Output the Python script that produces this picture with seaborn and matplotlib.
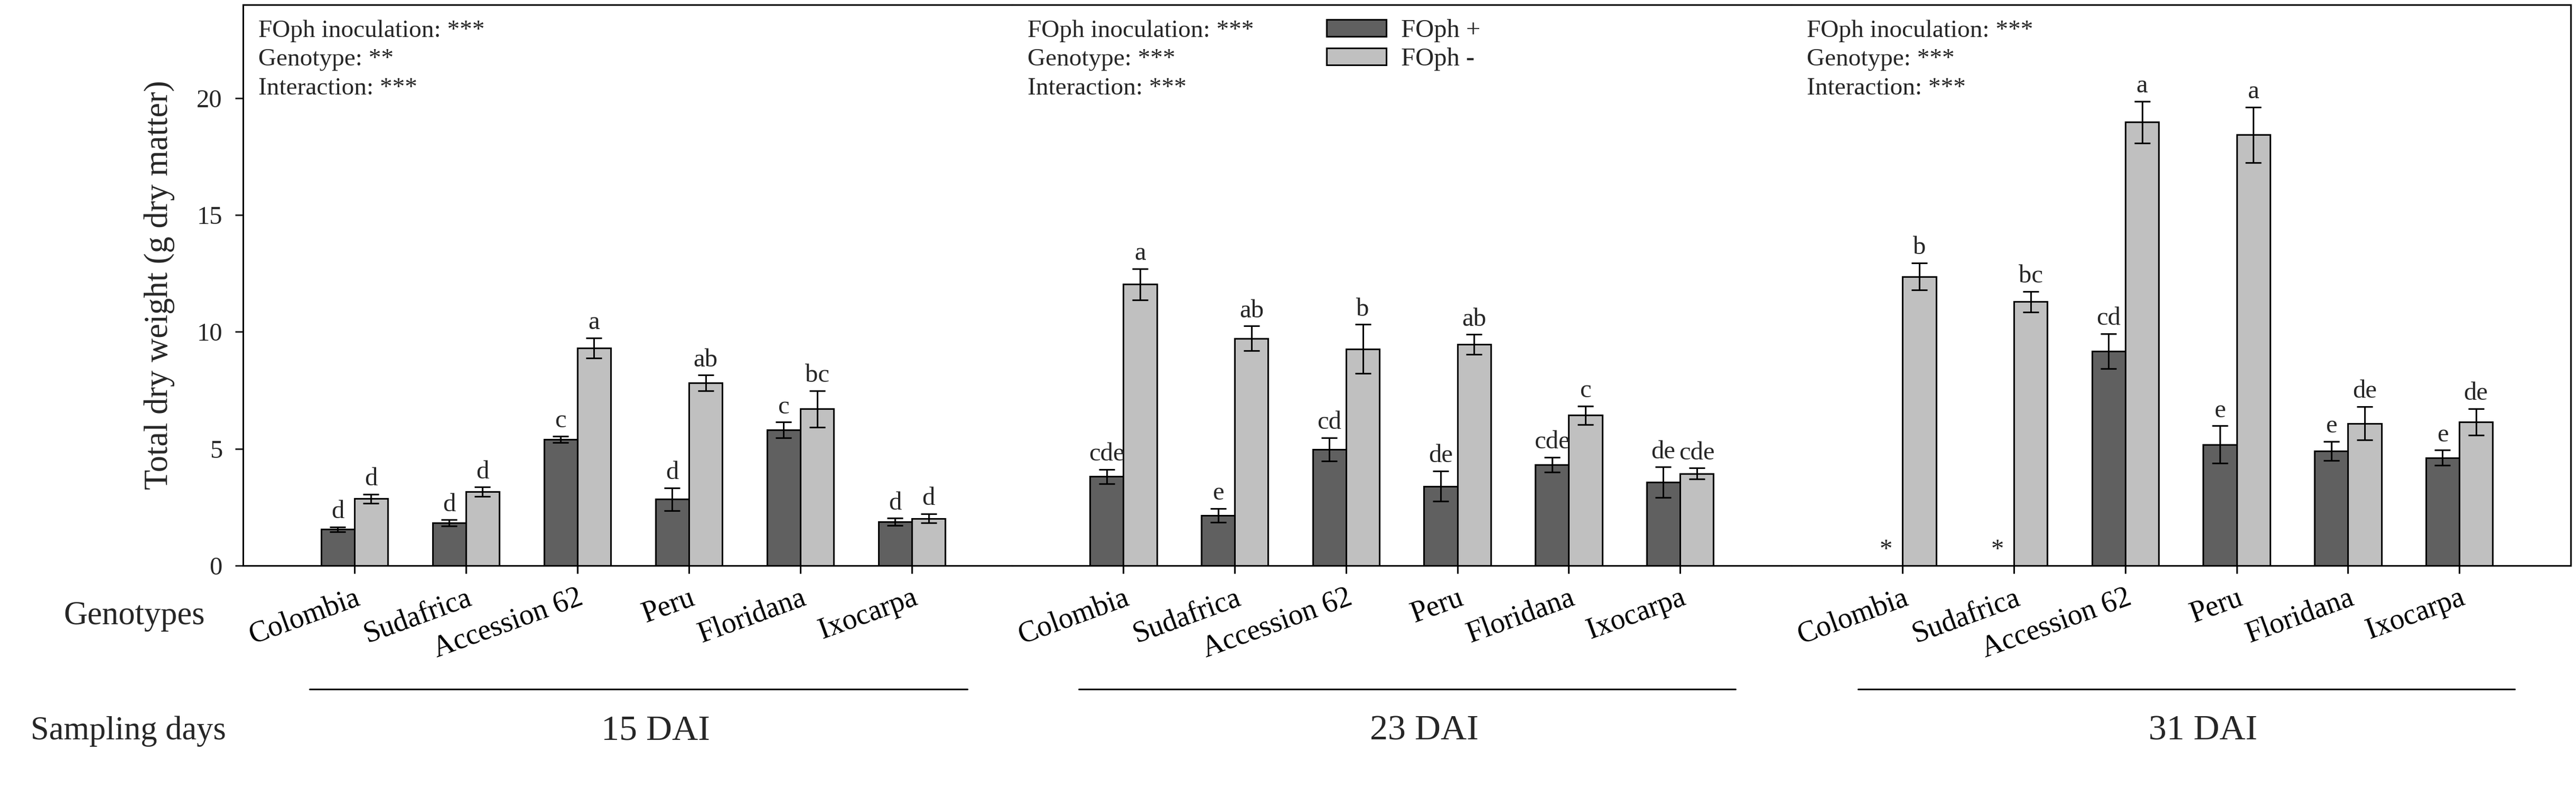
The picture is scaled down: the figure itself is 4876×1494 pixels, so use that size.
import matplotlib
matplotlib.use("Agg")
import matplotlib.pyplot as plt
import numpy as np
import pandas as pd
import seaborn as sns

# genotypes and sampling days
genotypes = ["Colombia", "Sudafrica", "Accession 62", "Peru", "Floridana", "Ixocarpa"]
days = ["15 DAI", "23 DAI", "31 DAI"]
treatments = ["FOph +", "FOph -"]

# mean total dry weight (g) per genotype, None = plant dead (marked with *)
pos_15 = [1.55, 1.83, 5.40, 2.84, 5.81, 1.87]
neg_15 = [2.86, 3.16, 9.31, 7.81, 6.71, 2.02]
pos_23 = [3.81, 2.15, 4.97, 3.40, 4.32, 3.57]
neg_23 = [12.04, 9.72, 9.27, 9.46, 6.43, 3.94]
pos_31 = [None, None, 9.18, 5.18, 4.90, 4.62]
neg_31 = [12.37, 11.29, 18.97, 18.43, 6.09, 6.15]

# standard errors
pos_15_se = [0.10, 0.13, 0.14, 0.48, 0.33, 0.16]
neg_15_se = [0.19, 0.20, 0.43, 0.34, 0.78, 0.20]
pos_23_se = [0.31, 0.30, 0.50, 0.65, 0.31, 0.65]
neg_23_se = [0.67, 0.53, 1.05, 0.43, 0.40, 0.23]
pos_31_se = [None, None, 0.75, 0.80, 0.41, 0.32]
neg_31_se = [0.58, 0.44, 0.89, 1.19, 0.72, 0.57]

# tukey letters
pos_15_let = ["d", "d", "c", "d", "c", "d"]
neg_15_let = ["d", "d", "a", "ab", "bc", "d"]
pos_23_let = ["cde", "e", "cd", "de", "cde", "de"]
neg_23_let = ["a", "ab", "b", "ab", "c", "cde"]
pos_31_let = ["*", "*", "cd", "e", "e", "e"]
neg_31_let = ["b", "bc", "a", "a", "de", "de"]

# anova summary per sampling day
anova_lines = [
    ["FOph inoculation: ***", "Genotype: **", "Interaction: ***"],
    ["FOph inoculation: ***", "Genotype: ***", "Interaction: ***"],
    ["FOph inoculation: ***", "Genotype: ***", "Interaction: ***"],
]

means = {("15 DAI", "FOph +"): pos_15, ("15 DAI", "FOph -"): neg_15,
         ("23 DAI", "FOph +"): pos_23, ("23 DAI", "FOph -"): neg_23,
         ("31 DAI", "FOph +"): pos_31, ("31 DAI", "FOph -"): neg_31}
errs = {("15 DAI", "FOph +"): pos_15_se, ("15 DAI", "FOph -"): neg_15_se,
        ("23 DAI", "FOph +"): pos_23_se, ("23 DAI", "FOph -"): neg_23_se,
        ("31 DAI", "FOph +"): pos_31_se, ("31 DAI", "FOph -"): neg_31_se}
letters = {("15 DAI", "FOph +"): pos_15_let, ("15 DAI", "FOph -"): neg_15_let,
           ("23 DAI", "FOph +"): pos_23_let, ("23 DAI", "FOph -"): neg_23_let,
           ("31 DAI", "FOph +"): pos_31_let, ("31 DAI", "FOph -"): neg_31_let}

rows = []
for d in days:
    for t in treatments:
        for i, g in enumerate(genotypes):
            rows.append({"day": d, "treatment": t, "genotype": g,
                         "weight": means[(d, t)][i], "se": errs[(d, t)][i],
                         "letter": letters[(d, t)][i]})
df = pd.DataFrame(rows)
df["weight"] = df["weight"].astype(float)
df["se"] = df["se"].astype(float)

sns.set_style("ticks")
plt.rcParams["font.family"] = ["Liberation Serif", "DejaVu Serif"]

LW = 2.2
colors = ["#606060", "#c0c0c0"]

fig = plt.figure(figsize=(48.76, 14.94), dpi=100)
bottom, height = 0.2831, 0.711
panels = [(0.0943, 0.2986, 5.9), (0.3929, 0.3025, 6.0), (0.6954, 0.3025, 6.0)]

for k, d in enumerate(days):
    left, width, xmax = panels[k]
    ax = fig.add_axes([left, bottom, width, height])
    sub = df[(df["day"] == d) & df["weight"].notna()]
    sns.barplot(data=sub, x="genotype", y="weight", hue="treatment",
                order=genotypes, hue_order=treatments, palette=colors,
                saturation=1, width=0.6, gap=0, errorbar=None,
                edgecolor="black", linewidth=LW, legend=(k == 1), ax=ax)
    ax.set_xlim(-1, xmax)
    ax.set_ylim(0, 24)
    ax.set_xlabel("")
    ax.set_ylabel("")

    # error bars and letters from the drawn bars
    bar_w = None
    light_x = {}
    for bar in ax.patches:
        if bar.get_height() == 0 and bar.get_width() == 0:
            continue
        xc = bar.get_x() + bar.get_width() / 2
        gi = int(round(xc))
        if gi < 0 or gi >= len(genotypes):
            continue
        bar_w = bar.get_width()
        t = treatments[0] if xc < gi else treatments[1]
        row = df[(df["day"] == d) & (df["treatment"] == t) & (df["genotype"] == genotypes[gi])].iloc[0]
        h = bar.get_height()
        if t == treatments[1]:
            light_x[gi] = xc
        ax.errorbar(xc, h, yerr=row["se"], fmt="none", ecolor="black",
                    elinewidth=LW, capsize=11, capthick=LW, zorder=4)
        ax.annotate(row["letter"], (xc, h + row["se"]), xytext=(0, 12),
                    textcoords="offset points", ha="center", va="baseline",
                    fontsize=35)

    # missing bars (dead plants)
    miss = df[(df["day"] == d) & df["weight"].isna()]
    for _, row in miss.iterrows():
        gi = genotypes.index(row["genotype"])
        xc = light_x[gi] - bar_w
        ax.annotate(row["letter"], (xc, 0), xytext=(0, 12),
                    textcoords="offset points", ha="center", va="baseline",
                    fontsize=35)

    # anova text
    for j, line in enumerate(anova_lines[k]):
        ax.text(0.02, 0.9426 - j * 0.0512, line, transform=ax.transAxes,
                ha="left", va="baseline", fontsize=34)

    # spines and ticks
    for s in ax.spines.values():
        s.set_linewidth(LW)
        s.set_color("black")
    ax.spines["left"].set_visible(k == 0)
    ax.spines["right"].set_visible(k == 2)
    ax.tick_params(axis="x", length=11, width=LW, direction="out", pad=14,
                   labelsize=40, colors="black")
    plt.setp(ax.get_xticklabels(), rotation=20, ha="right",
             rotation_mode="anchor")
    if k == 0:
        ax.set_yticks([0, 5, 10, 15, 20])
        ax.tick_params(axis="y", length=11, width=LW, direction="out",
                       pad=17, labelsize=35)
    else:
        ax.tick_params(axis="y", left=False, labelleft=False)

    # sampling day bracket
    ax.plot([-0.4, len(genotypes) - 0.5], [-0.2203, -0.2203],
            transform=ax.get_xaxis_transform(), clip_on=False,
            color="black", lw=LW)
    ax.text(2.7, -0.3098, d, transform=ax.get_xaxis_transform(),
            ha="center", va="baseline", fontsize=49)

    if k == 1:
        old = ax.get_legend()
        handles = old.legend_handles
        labels = [t.get_text() for t in old.get_texts()]
        old.remove()
        for hnd in handles:
            hnd.set_edgecolor("black")
            hnd.set_linewidth(LW)
        ax.legend(handles, labels, loc="upper left",
                  bbox_to_anchor=(0.4035, 0.974), frameon=False,
                  fontsize=35, handlelength=2.32, handleheight=0.64,
                  handletextpad=0.58, labelspacing=0.2, borderpad=0,
                  borderaxespad=0)

fig.text(0.0619, bottom + height / 2, "Total dry weight (g dry matter)",
         rotation=90, ha="center", va="center", fontsize=45)
fig.text(0.0521, 0.2088, "Genotypes", ha="center", va="baseline", fontsize=45)
fig.text(0.0498, 0.0629, "Sampling days", ha="center", va="baseline", fontsize=45)

fig.savefig("out.png", dpi=100)
